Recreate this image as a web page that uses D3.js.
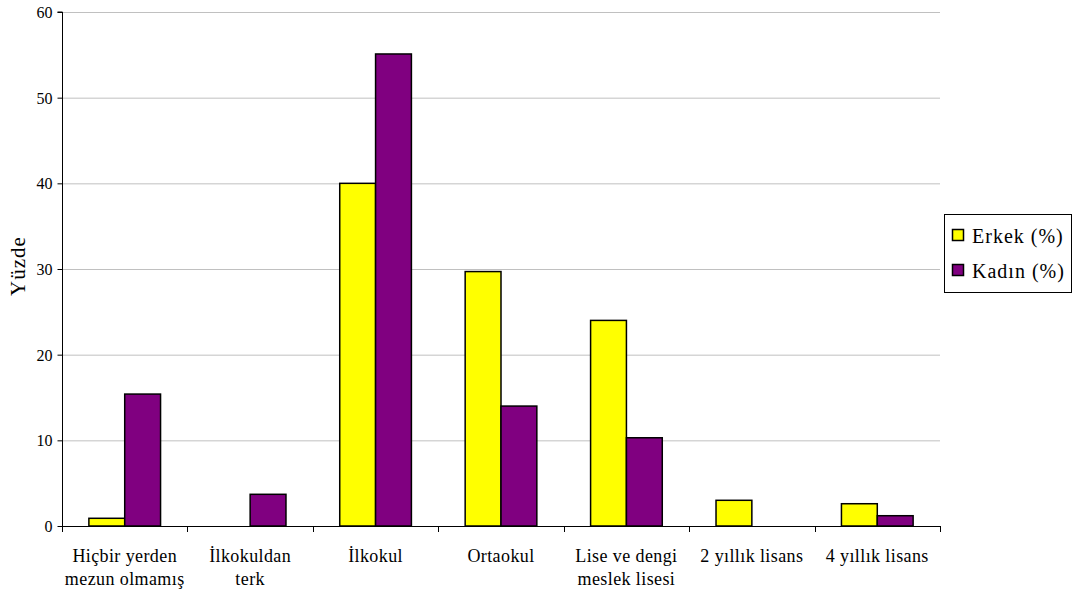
<!DOCTYPE html>
<html><head><meta charset="utf-8">
<script src="https://cdn.jsdelivr.net/npm/d3@7"></script>
</head><body style="margin:0">
<svg id="c" width="1073" height="594" font-family="Liberation Serif"></svg>
<script>
const categories = [["Hiçbir yerden","mezun olmamış"],["İlkokuldan","terk"],["İlkokul"],["Ortaokul"],["Lise ve dengi","meslek lisesi"],["2 yıllık lisans"],["4 yıllık lisans"]];
const seriesNames = ["Erkek (%)","Kadın (%)"];
const erkek = [0.9, 0, 40, 29.7, 24.0, 3.0, 2.6];
const kadin = [15.4, 3.7, 55.1, 14.0, 10.3, 0, 1.2];
const yTicks = [0,10,20,30,40,50,60];
const colors = ["#FFFF00","#800080"];

const FF = '"Liberation Serif"';
const svg = d3.select("#c");
svg.append("rect").attr("width",1073).attr("height",594).attr("fill","#fff");
const L=62, R=940, T=12, B=526;
const x = d3.scaleBand().domain(d3.range(categories.length)).range([L,R]).paddingInner(0).paddingOuter(0);
const y = d3.scaleLinear().domain([0,60]).range([B,T]);
const bw = x.bandwidth()/3.5;

// gridlines
svg.append("g").selectAll("line").data(yTicks.filter(d=>d>0)).join("line")
  .attr("x1",L).attr("x2",R).attr("y1",d=>y(d)+0.5).attr("y2",d=>y(d)+0.5)
  .attr("stroke","#c0c0c0").attr("stroke-width",1);

// bars
const series=[erkek,kadin];
series.forEach((vals,si)=>{
  svg.append("g").selectAll("rect").data(vals.map((v,i)=>({v,i})).filter(d=>d.v>0)).join("rect")
    .attr("x",d=>x(d.i)+x.bandwidth()/2 - bw + si*bw)
    .attr("y",d=>y(d.v))
    .attr("width",bw).attr("height",d=>B-y(d.v))
    .attr("fill",colors[si]).attr("stroke","#000").attr("stroke-width",1.5);
});

// y axis
const ya = svg.append("g").attr("transform",`translate(${L+0.5},0)`)
  .call(d3.axisLeft(y).tickValues(yTicks).tickSize(5).tickPadding(5));
ya.attr("font-family",null).attr("font-size",null);
ya.select(".domain").attr("d",`M-5,${T}H0V${B}`).attr("stroke","#000");
ya.selectAll(".tick line").attr("stroke","#000");
ya.selectAll(".tick text").style("font-family",FF).style("font-size","16px").attr("fill","#000").attr("dy","0.35em");

// x axis
const xb = d3.range(categories.length+1).map(i=>L+i*x.step());
svg.append("line").attr("x1",L).attr("x2",R).attr("y1",B+0.5).attr("y2",B+0.5).attr("stroke","#000");
svg.append("g").selectAll("line").data(xb).join("line")
  .attr("x1",d=>Math.round(d)+0.5).attr("x2",d=>Math.round(d)+0.5).attr("y1",B).attr("y2",B+6).attr("stroke","#000");
const xl = svg.append("g").selectAll("text").data(categories).join("text")
  .attr("text-anchor","middle").style("font-family",FF).style("font-size","18px").style("letter-spacing","0.4px")
  .attr("x",(d,i)=>x(i)+x.bandwidth()/2).attr("y",562);
xl.selectAll("tspan").data(d=>d).join("tspan")
  .attr("x",function(){return this.parentNode.getAttribute("x");})
  .attr("dy",(d,i)=>i===0?0:23).style("font-family",FF).text(d=>d);

// y label
svg.append("text").attr("transform","translate(25,266) rotate(-90)")
  .attr("text-anchor","middle").style("font-family",FF).style("font-size","21px").style("letter-spacing","1px").text("Yüzde");

// legend
const lg = svg.append("g");
lg.append("rect").attr("x",944.5).attr("y",214.5).attr("width",127).attr("height",78).attr("fill","#fff").attr("stroke","#000");
seriesNames.forEach((n,i)=>{
  lg.append("rect").attr("x",952.5).attr("y",229.5+i*35).attr("width",11).attr("height",11)
    .attr("fill",colors[i]).attr("stroke","#000").attr("stroke-width",1.5);
  lg.append("text").attr("x",972).attr("y",243+i*35).style("font-family",FF).style("font-size","20px").style("letter-spacing","1px").text(n);
});
</script>
</body></html>
